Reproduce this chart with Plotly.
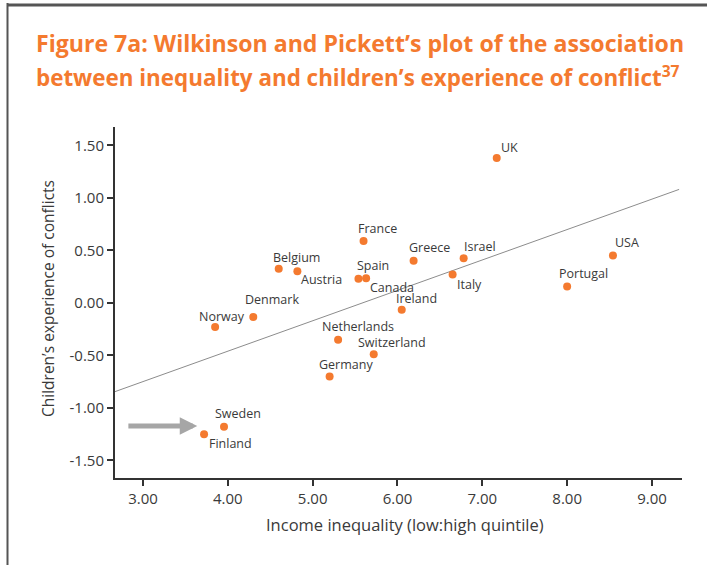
import plotly.graph_objects as go

# ---- data ----
countries = ["UK", "USA", "Portugal", "Israel", "Italy", "Greece", "Ireland", "Canada",
             "Spain", "France", "Belgium", "Austria", "Denmark", "Norway", "Netherlands",
             "Switzerland", "Germany", "Sweden", "Finland"]
inequality = [7.17, 8.54, 8.00, 6.78, 6.65, 6.19, 6.05, 5.63,
              5.54, 5.60, 4.60, 4.82, 4.30, 3.85, 5.30,
              5.72, 5.20, 3.955, 3.72]
conflict = [1.38, 0.45, 0.155, 0.425, 0.27, 0.40, -0.065, 0.235,
            0.23, 0.59, 0.325, 0.30, -0.135, -0.23, -0.35,
            -0.49, -0.70, -1.18, -1.25]
x_ticks = [3, 4, 5, 6, 7, 8, 9]
y_ticks = [1.5, 1.0, 0.5, 0.0, -0.5, -1.0, -1.5]
trend_x = [2.67, 9.32]
trend_y = [-0.845, 1.08]
arrow_from_x, arrow_to_x, arrow_y = 2.81, 3.64, -1.171

# label offsets (pixels): (xshift, yshift)
label_offsets = {
    "UK": (13, 10), "USA": (14, 13), "Portugal": (16, 13), "Israel": (16, 12),
    "Italy": (17, -10), "Greece": (16, 13), "Ireland": (15, 11), "Canada": (26, -9),
    "Spain": (15, 13), "France": (14, 12), "Belgium": (18, 11), "Austria": (24, -8),
    "Denmark": (19, 18), "Norway": (7, 11), "Netherlands": (20, 13),
    "Switzerland": (18, 12), "Germany": (16, 12), "Sweden": (14, 13), "Finland": (26, -9),
}

ORANGE = "#F47A2F"
FONT = "Open Sans"
TXT = "#3a3a3a"

W, H = 707, 565
L, R, T, B = 115, 25, 127, 87
pw, ph = W - L - R, H - T - B

def px_x(p):
    return (p - L) / pw

def px_y(p):
    return (H - B - p) / ph

fig = go.Figure()

fig.add_trace(go.Scatter(x=trend_x, y=trend_y, mode="lines",
                         line=dict(color="#8c8c8c", width=1), hoverinfo="skip",
                         showlegend=False))
fig.add_trace(go.Scatter(x=inequality, y=conflict, mode="markers",
                         marker=dict(color=ORANGE, size=8), text=countries,
                         showlegend=False))

ann = []
for c, xv, yv in zip(countries, inequality, conflict):
    dx, dy = label_offsets[c]
    ann.append(dict(x=xv, y=yv, xref="x", yref="y", text=c, showarrow=False,
                    xshift=dx, yshift=dy, xanchor="center", yanchor="middle",
                    font=dict(family=FONT, size=12.5, color=TXT)))

# arrow
ann.append(dict(x=arrow_to_x, y=arrow_y, ax=arrow_from_x, ay=arrow_y,
                xref="x", yref="y", axref="x", ayref="y", text="",
                showarrow=True, arrowhead=2, arrowsize=0.7, arrowwidth=5,
                arrowcolor="#a6a6a6"))

# titles
ann.append(dict(x=px_x(34), y=px_y(43), xref="paper", yref="paper", xanchor="left",
                yanchor="middle", showarrow=False,
                text="<b>Figure 7a: Wilkinson and Pickett\u2019s plot of the association</b>",
                font=dict(family=FONT, size=23.1, color=ORANGE)))
ann.append(dict(x=px_x(34), y=px_y(77), xref="paper", yref="paper", xanchor="left",
                yanchor="middle", showarrow=False,
                text="<b>between inequality and children\u2019s experience of conflict<sup>37</sup></b>",
                font=dict(family=FONT, size=22.4, color=ORANGE)))
# axis titles
ann.append(dict(x=px_x(405), y=px_y(524), xref="paper", yref="paper", xanchor="center",
                yanchor="middle", showarrow=False,
                text="Income inequality (low:high quintile)",
                font=dict(family=FONT, size=16.5, color=TXT)))
ann.append(dict(x=px_x(48), y=px_y(299), xref="paper", yref="paper", xanchor="center",
                yanchor="middle", showarrow=False, textangle=-90,
                text="Children\u2019s experience of conflicts",
                font=dict(family=FONT, size=15.5, color=TXT)))

shapes = [
    dict(type="line", xref="paper", yref="paper", x0=px_x(7), x1=px_x(707),
         y0=px_y(5), y1=px_y(5), line=dict(color="#555555", width=3)),
    dict(type="line", xref="paper", yref="paper", x0=px_x(7.5), x1=px_x(7.5),
         y0=px_y(3), y1=px_y(566), line=dict(color="#555555", width=2)),
]

fig.update_layout(
    width=W, height=H,
    margin=dict(l=L, r=R, t=T, b=B),
    paper_bgcolor="white", plot_bgcolor="white",
    annotations=ann, shapes=shapes,
    xaxis=dict(range=[2.67, 9.354], tickvals=x_ticks,
               ticktext=[f"{v:.2f}" for v in x_ticks],
               showgrid=False, zeroline=False, showline=True, linecolor="#333333",
               linewidth=2, ticks="outside", ticklen=6, tickwidth=2, tickcolor="#333333",
               tickfont=dict(family=FONT, size=15, color=TXT)),
    yaxis=dict(range=[-1.667, 1.674], tickvals=y_ticks,
               ticktext=[f"{v:.2f}" for v in y_ticks],
               showgrid=False, zeroline=False, showline=True, linecolor="#333333",
               linewidth=2, ticks="outside", ticklen=6, tickwidth=2, tickcolor="#333333",
               tickfont=dict(family=FONT, size=15, color=TXT)),
)

fig.write_html("out.html", config={"displayModeBar": False},
               post_script="document.body.style.margin='0';document.body.style.overflow='hidden';")
